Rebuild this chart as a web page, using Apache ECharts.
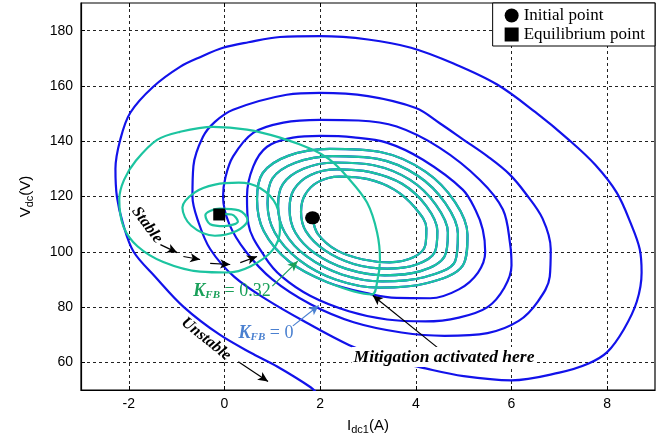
<!DOCTYPE html>
<html>
<head>
<meta charset="utf-8">
<script src="https://cdn.jsdelivr.net/npm/echarts@6/dist/echarts.min.js"></script>
<style>html,body{margin:0;padding:0;background:#fff}#c{width:672px;height:443px}</style>
</head>
<body>
<div id="c"></div>
<script>
// ---- data (I_dc1 [A], V_dc [V]) ----
const xTicks = [-2, 0, 2, 4, 6, 8];
const yTicks = [60, 80, 100, 120, 140, 160, 180];

const initialPoint = [[1.84, 112.3]];
const equilibriumPoint = [[-0.11, 113.5]];

// shared trajectory (both K_FB cases) from the initial point until mitigation
const innerSpiral = [
  [1.84,112.3],[1.95,106.5],[2.35,100.5],[2.9,97.2],[3.45,96.2],[3.95,98.0],[4.2,102.5],[4.22,108.5],[3.98,116],[3.55,122.5],[3.0,126.3],[2.4,127.2],[1.95,125.2],[1.68,120.5],[1.6,114.5],
  [1.7,107.5],[2.1,100.5],[2.7,95.6],[3.4,93.9],[4.0,95.3],[4.4,100],[4.45,107.5],[4.22,116.5],[3.72,124.5],[3.05,128.8],[2.35,129.8],[1.8,127.8],[1.45,122.5],[1.36,115.5],
  [1.48,107],[1.9,99.3],[2.55,93.8],[3.35,91.5],[4.1,93],[4.6,98.3],[4.67,107],[4.42,117],[3.88,126],[3.12,131.3],[2.3,132.3],[1.65,130],[1.22,124.5],[1.12,116.5],
  [1.26,107],[1.72,98.3],[2.45,91.8],[3.3,89.3],[4.17,90.8],[4.82,96.5],[4.88,106.5],[4.62,117.5],[4.04,127.5],[3.2,133.6],[2.25,134.6],[1.48,132.2],[1.0,126.5],[0.9,117.5],
  [1.05,107],[1.55,97.2],[2.32,90],[3.25,87],[4.22,88.6],[4.98,95],[5.08,106.2],[4.82,118],[4.2,129],[3.28,136],[2.2,137.2],[1.33,134.7],[0.8,128.5],[0.68,119],
  [0.82,107.5],[1.35,96.5],[2.15,89],[3.08,84.6]
];

// K_FB = 0 : unstable, keeps growing
const blueTail = [
  [3.08,84.6],[3.6,83.3],[4.3,83.2],[4.9,86.4],[5.3,92.5],[5.45,100],[5.4,108],[5.25,115],[4.98,122.5],[4.15,133.3],[3.39,139.5],[2.7,141.4],[2.0,141.9],[1.43,141.3],[0.89,138],[0.6,130.8],[0.47,120],[0.5,110],[0.85,98],[1.2,91],[1.8,84],[2.6,78.5],[3.4,75.5],[4.2,74.8],
  [4.9,76.2],[5.5,80],[5.85,87],[6.0,95],[5.97,103],[5.82,115.3],[5.34,126],[4.5,137.6],[3.6,145.3],[2.8,147.5],[2.0,147.7],[1.23,146.7],[0.6,143],[0.18,134.5],[0.02,127],[-0.03,120],[0.1,110],[0.45,100],[1.0,90],[1.8,81],[2.7,74.5],[3.7,70.8],
  [4.6,69.6],[5.5,70.6],[6.15,75],[6.55,82],[6.8,91],[6.82,101],[6.65,112],[6.3,121],[5.96,128],[5.5,134.5],[5.0,140.5],[4.5,146.5],[4.0,152],[3.0,156.3],[2.0,157.5],[1.3,156.8],[0.18,151.4],[-0.2,147],[-0.45,141.6],[-0.65,131],[-0.67,120],[-0.55,111],[-0.3,101],[0.2,91],[0.9,82.5],[1.7,74.5],[2.6,66.3],[3.4,61],[4.1,58.2],
  [5.0,55],[6.0,53.5],[7.0,56.3],[7.6,59.5],[8.0,63.7],[8.35,72],[8.62,82],[8.72,92.5],[8.68,101],[8.5,110],[8.2,121.4],[7.75,131.5],[7.2,140.5],[6.5,150.5],[5.7,160.5],[4.8,168],[3.9,173.8],[3.0,176.8],[2.0,178],[1.16,177.7],[0.5,175.8],[-0.03,173.8],[-0.5,170.5],[-0.93,166.9],[-1.49,159.7],[-1.97,150.3],[-2.18,140.5],[-2.28,130],[-2.25,120],[-2.12,110],[-1.9,100],[-1.45,91],[-0.85,80],[-0.1,70],[0.6,63],[1.1,58.5],[1.8,51],[1.95,48.5]
];

// K_FB = 0.32 : mitigation activated, converges to the equilibrium point
const tealTail = [
  [3.08,84.6],[3.2,90],[3.25,97.1],[3.19,107],[2.98,117.8],[2.56,127.2],[2.2,133.3],[1.85,136.9],[1.16,141.3],[0.47,144.2],[-0.24,145.2],[-0.93,143.4],[-1.41,140.5],[-1.85,133],[-2.1,126],[-2.2,119],[-2.11,109],[-1.82,102],[-1.28,96.3],[-0.51,92.8],[0.06,92.5],[0.54,94.7],[1.0,100.5],[1.16,108],[1.08,117],[0.75,123],[0.3,125],[-0.2,124.3],[-0.62,121.5],[-0.88,116],[-0.7,109.5],[-0.2,105.8],[0.25,107.5],[0.48,111.5],[0.3,115],[-0.1,115.6],[-0.4,113.2],[-0.3,110],[0.0,109.3],[0.28,111],[0.15,113.5],[-0.1,113.7]
];

const BLUE = '#1212ea';
const TEAL = '#1cc4a0';

const chart = echarts.init(document.getElementById('c'), null, {renderer: 'canvas'});

const arrowLines = [
  // "Stable" arrows
  {from: [-1.34,102.6], to: [-0.99,99.7], color: '#000'},
  {from: [-0.86,98.3], to: [-0.51,97.2], color: '#000'},
  {from: [-0.3,95.8], to: [0.12,95.4], color: '#000'},
  {from: [0.33,96.1], to: [0.68,98.3], color: '#000'},
  // "Unstable" arrow
  {from: [0.29,60.2], to: [0.91,53.1], color: '#000'},
  // K_FB labels
  {from: [1.0,87.6], to: [1.53,96.6], color: '#1aa05a'},
  {from: [1.43,73.2], to: [1.97,80.6], color: '#4a80d0'},
  // mitigation
  {from: [4.5,64.7], to: [3.1,84.2], color: '#000'}
];

const option = {
  animation: false,
  backgroundColor: '#fff',
  grid: {left: 81, right: 17, top: 3, bottom: 53, show: true, borderColor: '#000', borderWidth: 1.2, containLabel: false},
  legend: {
    data: [{name: 'Initial point', icon: 'circle'}, {name: 'Equilibrium point', icon: 'rect'}],
    right: 17, top: 3, orient: 'vertical',
    backgroundColor: '#fff', borderColor: '#000', borderWidth: 1, borderRadius: 0,
    padding: [4, 10, 3, 12], itemGap: 2, itemWidth: 14, itemHeight: 14,
    textStyle: {fontFamily: 'Liberation Serif', fontSize: 17, color: '#000'}
  },
  xAxis: [{
    type: 'value', min: -3, max: 9, position: 'bottom',
    name: '{a|I}{s|dc1}{a|(A)}', nameLocation: 'middle', nameGap: 27,
    nameTextStyle: {rich: {
      a: {fontFamily: 'Liberation Sans', fontSize: 15, color: '#000', lineHeight: 18},
      s: {fontFamily: 'Liberation Sans', fontSize: 11, color: '#000', lineHeight: 8, verticalAlign: 'bottom'}
    }},
    axisLine: {show: true, onZero: false, lineStyle: {color: '#000', width: 1.2}},
    axisTick: {show: true, inside: true, length: 4, customValues: xTicks, lineStyle: {color: '#000'}},
    axisLabel: {customValues: xTicks, margin: 7, fontFamily: 'Liberation Sans', fontSize: 14, color: '#000'},
    splitLine: {show: true, lineStyle: {color: '#222', type: [3, 3], width: 1}}
  }, {
    type: 'value', min: -3, max: 9, position: 'top',
    axisLine: {show: false}, axisLabel: {show: false}, splitLine: {show: false},
    axisTick: {show: true, inside: true, length: 4, customValues: xTicks, lineStyle: {color: '#000'}}
  }],
  yAxis: [{
    type: 'value', min: 50, max: 190, position: 'left',
    name: '{a|V}{s|dc}{a|(V)}', nameLocation: 'middle', nameGap: 46, nameRotate: 90,
    nameTextStyle: {rich: {
      a: {fontFamily: 'Liberation Sans', fontSize: 15, color: '#000', lineHeight: 18},
      s: {fontFamily: 'Liberation Sans', fontSize: 11, color: '#000', lineHeight: 8, verticalAlign: 'bottom'}
    }},
    axisLine: {show: true, onZero: false, lineStyle: {color: '#000', width: 1.2}},
    axisTick: {show: true, inside: true, length: 4, customValues: yTicks, lineStyle: {color: '#000'}},
    axisLabel: {customValues: yTicks, margin: 8, fontFamily: 'Liberation Sans', fontSize: 14, color: '#000'},
    splitLine: {show: true, lineStyle: {color: '#222', type: [3, 3], width: 1}}
  }, {
    type: 'value', min: 50, max: 190, position: 'right',
    axisLine: {show: false}, axisLabel: {show: false}, splitLine: {show: false},
    axisTick: {show: true, inside: true, length: 4, customValues: yTicks, lineStyle: {color: '#000'}}
  }],
  series: [
    {
      name: 'K_FB = 0', type: 'line', data: innerSpiral.concat(blueTail.slice(1)),
      showSymbol: false, smooth: 0.35, clip: true,
      lineStyle: {color: BLUE, width: 2.2}, z: 2, silent: true
    },
    {
      name: 'K_FB = 0.32', type: 'line', data: innerSpiral.concat(tealTail.slice(1)),
      showSymbol: false, smooth: 0.35, clip: true,
      lineStyle: {color: TEAL, width: 2.2}, z: 3, silent: true,
      markLine: {
        silent: true, symbol: ['none', 'arrow'], symbolSize: [7, 10], label: {show: false},
        data: arrowLines.map(a => [
          {coord: a.from, lineStyle: {color: a.color, width: 1.2, type: 'solid'}},
          {coord: a.to}
        ])
      }
    },
    {
      name: 'Initial point', type: 'scatter', data: initialPoint, symbol: 'circle',
      symbolSize: [15, 13], itemStyle: {color: '#000', opacity: 1}, z: 5, silent: true
    },
    {
      name: 'Equilibrium point', type: 'scatter', data: equilibriumPoint, symbol: 'rect',
      symbolSize: 12, itemStyle: {color: '#000', opacity: 1}, z: 5, silent: true
    }
  ],
  graphic: [
    {type: 'text', x: 147, y: 225, rotation: -0.93, z: 10,
     style: {text: 'Stable', font: 'italic bold 16px "Liberation Serif"', fill: '#000', align: 'center', verticalAlign: 'middle'}},
    {type: 'text', x: 206, y: 339, rotation: -0.68, z: 10,
     style: {text: 'Unstable', font: 'italic bold 16px "Liberation Serif"', fill: '#000', align: 'center', verticalAlign: 'middle'}},
    {type: 'text', x: 232, y: 291, z: 10,
     style: {text: '{k|K}{s|FB}{n| = 0.32}', align: 'center', verticalAlign: 'middle',
       rich: {
         k: {font: 'italic bold 18px "Liberation Serif"', fill: '#1aa05a', lineHeight: 20},
         s: {font: 'italic bold 11px "Liberation Serif"', fill: '#1aa05a', lineHeight: 9, verticalAlign: 'bottom'},
         n: {font: '18px "Liberation Serif"', fill: '#1aa05a', lineHeight: 20}
       }}},
    {type: 'text', x: 266, y: 333, z: 10,
     style: {text: '{k|K}{s|FB}{n| = 0}', align: 'center', verticalAlign: 'middle',
       rich: {
         k: {font: 'italic bold 18px "Liberation Serif"', fill: '#4a80d0', lineHeight: 20},
         s: {font: 'italic bold 11px "Liberation Serif"', fill: '#4a80d0', lineHeight: 9, verticalAlign: 'bottom'},
         n: {font: '18px "Liberation Serif"', fill: '#4a80d0', lineHeight: 20}
       }}},
    {type: 'text', x: 444, y: 357, z: 10,
     style: {text: 'Mitigation activated here', font: 'italic bold 17.5px "Liberation Serif"', fill: '#000',
       align: 'center', verticalAlign: 'middle', backgroundColor: '#fff', padding: [1, 2]}}
  ]
};

chart.setOption(option);
</script>
</body>
</html>
